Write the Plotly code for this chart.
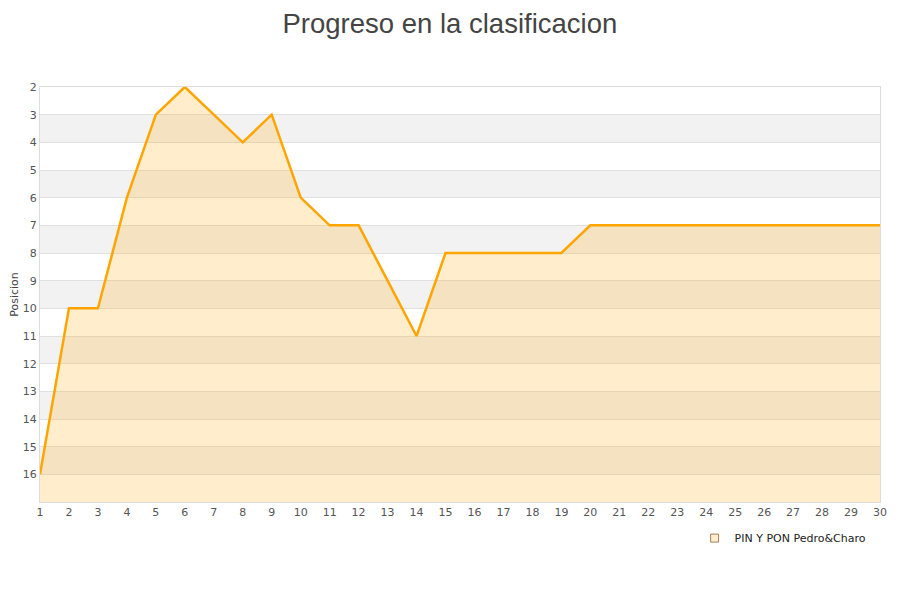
import plotly.graph_objects as go

# Datos de la clasificacion por jornada
jornadas = list(range(1, 31))
posiciones = [16, 10, 10, 6, 3, 2, 3, 4, 3, 6, 7, 7, 9, 11, 8, 8, 8, 8, 8, 7,
              7, 7, 7, 7, 7, 7, 7, 7, 7, 7]
equipo = "PIN Y PON Pedro&Charo"
y_ticks = list(range(2, 17))
y_min, y_max = 2, 17

fig = go.Figure()

# linea base para rellenar hasta el fondo
fig.add_trace(go.Scatter(
    x=jornadas, y=[y_max] * len(jornadas), mode="lines",
    line=dict(width=0), showlegend=False, hoverinfo="skip"
))
fig.add_trace(go.Scatter(
    x=jornadas, y=posiciones, mode="lines", name=equipo,
    line=dict(color="#FFA500", width=2.5),
    fill="tonexty", fillcolor="rgba(255,165,0,0.2)",
    showlegend=False
))
# entrada de leyenda
fig.add_trace(go.Scatter(
    x=[None], y=[None], mode="markers", name=equipo,
    marker=dict(symbol="square", size=8, color="#FFEDCC",
                line=dict(color="#a08060", width=1))
))

# bandas grises alternas
for v in range(3, y_max, 2):
    fig.add_shape(type="rect", xref="paper", yref="y", x0=0, x1=1,
                  y0=v, y1=v + 1, fillcolor="#F2F2F2", line_width=0,
                  layer="below")

fig.update_layout(
    width=900, height=600,
    title=dict(text="Progreso en la clasificacion", x=0.491, xanchor="center",
               y=0.99, yanchor="top", pad=dict(t=0),
               font=dict(family="Liberation Sans", size=27.5, color="#444")),
    font=dict(family="DejaVu Sans", size=11, color="#555"),
    plot_bgcolor="white", paper_bgcolor="white",
    margin=dict(l=32, r=28, t=79, b=106),
    legend=dict(x=0.99, xanchor="right", y=-0.087, yanchor="middle",
                font=dict(size=11, color="#222"), bgcolor="rgba(0,0,0,0)"),
    xaxis=dict(range=[1, 30], tickvals=jornadas, showgrid=False,
               showline=True, linecolor="#ddd", mirror=True, zeroline=False,
               ticks="", automargin=False),
    yaxis=dict(range=[y_max, y_min], tickvals=y_ticks, showgrid=True,
               gridcolor="#e0e0e0", showline=True, linecolor="#ddd",
               mirror=True, zeroline=False, ticks="", automargin=False,
               title=dict(text="Posicion", font=dict(size=11, color="#444"),
                          standoff=4)),
)

fig.write_html("out.html")
